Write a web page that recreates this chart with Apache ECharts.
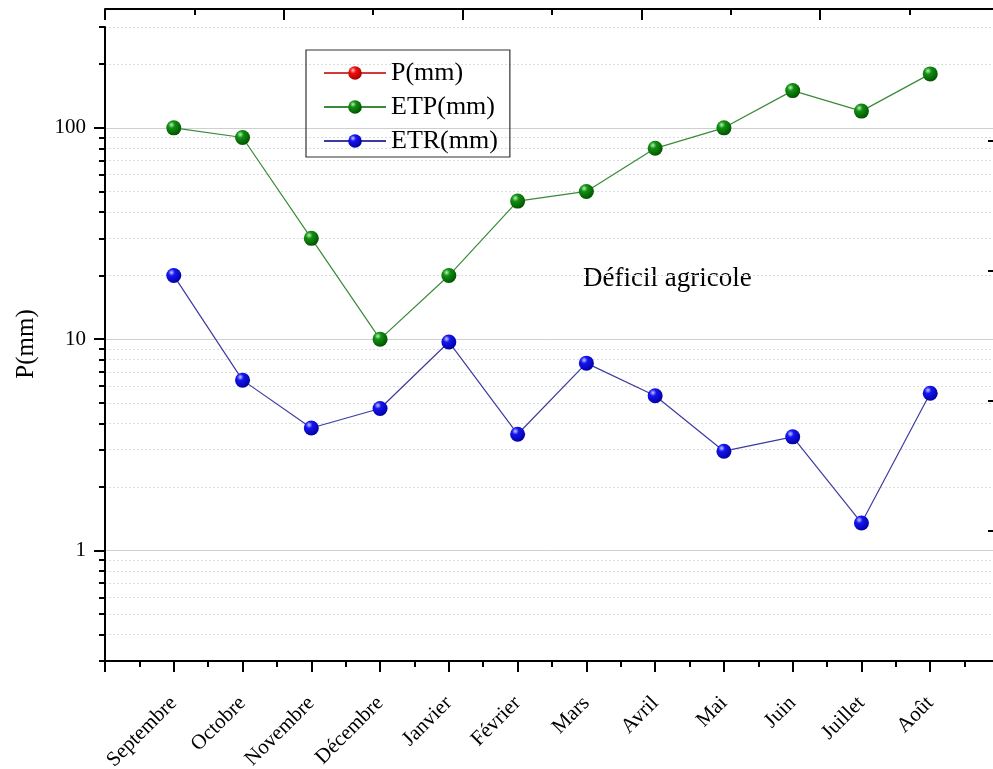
<!DOCTYPE html>
<html>
<head>
<meta charset="utf-8">
<script src="https://cdn.jsdelivr.net/npm/echarts@6/dist/echarts.min.js"></script>
<style>
  html, body { margin: 0; padding: 0; background: #fff; }
  #chart { width: 993px; height: 769px; }
</style>
</head>
<body>
<div id="chart"></div>
<script>
var months = ['Septembre', 'Octobre', 'Novembre', 'Décembre', 'Janvier', 'Février', 'Mars', 'Avril', 'Mai', 'Juin', 'Juillet', 'Août']
var pValues = []
var etpValues = [100, 90, 30, 10, 20, 45, 50, 80, 100, 150, 120, 180]
var etrValues = [20, 6.4, 3.8, 4.7, 9.7, 3.55, 7.7, 5.4, 2.95, 3.45, 1.35, 5.55]
var majorTicks = [1, 10, 100]
var minorTicks = [0.3, 0.4, 0.5, 0.6, 0.7, 0.8, 0.9, 2, 3, 4, 5, 6, 7, 8, 9, 20, 30, 40, 50, 60, 70, 80, 90, 200, 300]
var rightTicks = [1, 2, 3, 4]
var note = 'Déficil agricole'

var serif = '"Liberation Serif", "Times New Roman", serif'

function ball(light, mid, dark) {
  return new echarts.graphic.RadialGradient(0.35, 0.3, 0.75, [
    { offset: 0, color: light },
    { offset: 0.3, color: mid },
    { offset: 1, color: dark }
  ])
}

function toPoints(values) {
  return values.map(function(v, i) { return [i + 1, v] })
}

var chart = echarts.init(document.getElementById('chart'))
var option = {
  animation: false,
  grid: { left: 105, top: 27, width: 894, bottom: 108, outerBoundsMode: 'none' },
  legend: {
    data: ['P(mm)', 'ETP(mm)', 'ETR(mm)'],
    orient: 'vertical',
    left: 306,
    top: 50,
    itemWidth: 62,
    itemHeight: 17,
    itemGap: 8,
    padding: [10, 12, 3, 17],
    borderColor: '#333',
    borderWidth: 1.2,
    textStyle: { fontFamily: serif, fontSize: 26, color: '#000' }
  },
  xAxis: [
    {
      type: 'value',
      position: 'bottom',
      min: 0,
      max: 13,
      interval: 1,
      axisLine: { lineStyle: { color: '#000', width: 2 } },
      axisTick: { length: 11, lineStyle: { color: '#000', width: 2 } },
      minorTick: { show: true, splitNumber: 2, length: 6, lineStyle: { color: '#000', width: 2 } },
      splitLine: { show: false },
      axisLabel: {
        rotate: 45,
        margin: 39,
        fontFamily: serif,
        fontSize: 21,
        color: '#000',
        formatter: function(v) { return months[v - 1] || '' }
      }
    },
    {
      type: 'value',
      position: 'top',
      offset: 18,
      min: 0,
      max: 10,
      interval: 2,
      axisLine: { lineStyle: { color: '#000', width: 2 } },
      axisTick: { inside: true, length: 11, lineStyle: { color: '#000', width: 2 } },
      minorTick: { show: true, splitNumber: 2, length: 6, lineStyle: { color: '#000', width: 2 } },
      splitLine: { show: false },
      axisLabel: { show: false }
    }
  ],
  yAxis: [
    {
      type: 'log',
      logBase: 10,
      min: 0.3,
      max: 300,
      position: 'left',
      name: 'P(mm)',
      nameLocation: 'middle',
      nameGap: 66,
      nameTextStyle: { fontFamily: serif, fontSize: 25, color: '#000' },
      axisLine: { lineStyle: { color: '#000', width: 2 } },
      axisTick: { customValues: majorTicks, length: 11, lineStyle: { color: '#000', width: 2 } },
      axisLabel: { customValues: majorTicks, margin: 19, fontFamily: serif, fontSize: 21, color: '#000' },
      splitLine: { lineStyle: { color: '#cfcfcf', width: 1 } }
    },
    {
      type: 'log',
      logBase: 10,
      min: 0.3,
      max: 300,
      position: 'left',
      axisLine: { show: false },
      axisTick: { customValues: minorTicks, length: 6, lineStyle: { color: '#000', width: 2 } },
      axisLabel: { show: false },
      splitLine: { lineStyle: { color: '#dcdcdc', width: 1, type: [2, 2] } }
    },
    {
      type: 'value',
      position: 'right',
      offset: -11,
      min: 0,
      max: 634 / 130,
      axisLine: { show: false },
      axisTick: { customValues: rightTicks, length: 5, lineStyle: { color: '#000', width: 2 } },
      axisLabel: { show: false },
      splitLine: { show: false }
    }
  ],
  graphic: [
    {
      type: 'text',
      left: 583,
      top: 265,
      style: { text: note, font: '27px ' + serif, fill: '#000' }
    }
  ],
  series: [
    {
      name: 'P(mm)',
      type: 'line',
      data: toPoints(pValues),
      symbol: 'circle',
      symbolSize: 15,
      lineStyle: { color: '#d03a3a', width: 1.2 },
      itemStyle: { color: ball('#ffc0c0', '#f01010', '#a00000') }
    },
    {
      name: 'ETP(mm)',
      type: 'line',
      data: toPoints(etpValues),
      symbol: 'circle',
      symbolSize: 15,
      lineStyle: { color: '#3a8a3a', width: 1.2 },
      itemStyle: { color: ball('#b8f0b8', '#119011', '#005000') }
    },
    {
      name: 'ETR(mm)',
      type: 'line',
      data: toPoints(etrValues),
      symbol: 'circle',
      symbolSize: 15,
      lineStyle: { color: '#3c3ca0', width: 1.2 },
      itemStyle: { color: ball('#c8c8ff', '#1515f0', '#0000a0') }
    }
  ]
}
chart.setOption(option)
</script>
</body>
</html>
